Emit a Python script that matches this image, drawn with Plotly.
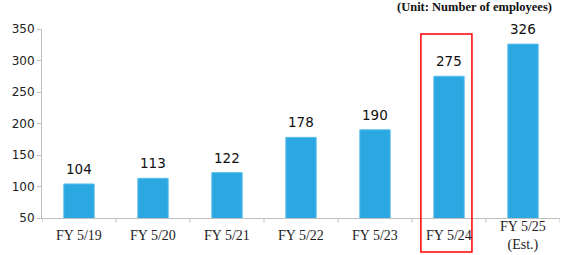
import plotly.graph_objects as go

categories = ["FY 5/19", "FY 5/20", "FY 5/21", "FY 5/22", "FY 5/23", "FY 5/24", "FY 5/25<br>(Est.)"]
employees = [104, 113, 122, 178, 190, 275, 326]
y_ticks = [50, 100, 150, 200, 250, 300, 350]
highlight_index = 5

fig = go.Figure()
fig.add_trace(go.Bar(
    x=list(range(len(categories))), y=employees,
    width=0.41,
    marker=dict(color="#2BA8E2", line=dict(color="#5BBEEA", width=1)),
    cliponaxis=False,
))

# value labels
for i, v in enumerate(employees):
    fig.add_annotation(x=i, y=v, xref="x", yref="y", text=str(v), showarrow=False,
                       yanchor="bottom", yshift=5,
                       font=dict(family="DejaVu Sans", size=13.5, color="#111111"))

# category labels, vertically centred like the original
for i, c in enumerate(categories):
    fig.add_annotation(x=i, y=-0.095, xref="x", yref="paper", text=c, showarrow=False,
                       yanchor="middle", xanchor="center",
                       font=dict(family="Liberation Serif", size=14, color="#222222"))

fig.add_shape(type="rect", xref="x", yref="paper",
              x0=highlight_index - 0.38, x1=highlight_index + 0.31,
              y0=-0.18, y1=0.974,
              line=dict(color="#FF0000", width=1.5), fillcolor="rgba(0,0,0,0)")

fig.add_annotation(text="<b>(Unit: Number of employees)</b>", xref="paper", yref="paper",
                   x=0.988, y=1.07, xanchor="right", yanchor="bottom", showarrow=False,
                   font=dict(family="Liberation Serif", size=12.5, color="#111111"))

fig.update_layout(
    width=561, height=255,
    margin=dict(l=42, r=1, t=29, b=37),
    paper_bgcolor="white", plot_bgcolor="white",
    showlegend=False,
)
fig.update_xaxes(
    tickmode="array", tickvals=list(range(len(categories))),
    showticklabels=False,
    range=[-0.5, len(categories) - 0.5],
    showline=True, linecolor="#BFBFBF", linewidth=1,
    ticks="", showgrid=False,
)
fig.update_yaxes(
    range=[50, 350], tickvals=y_ticks,
    showline=True, linecolor="#BFBFBF", linewidth=1,
    ticks="outside", ticklen=4, tickcolor="#BFBFBF",
    showgrid=False, zeroline=False,
    tickfont=dict(family="DejaVu Sans", size=12, color="#222222"),
)
# boundary ticks between categories
for i in range(len(categories) + 1):
    fig.add_shape(type="line", xref="x", yref="paper", x0=i - 0.5, x1=i - 0.5, y0=0, y1=-0.025,
                  line=dict(color="#BFBFBF", width=1))

fig.write_html("out.html")
